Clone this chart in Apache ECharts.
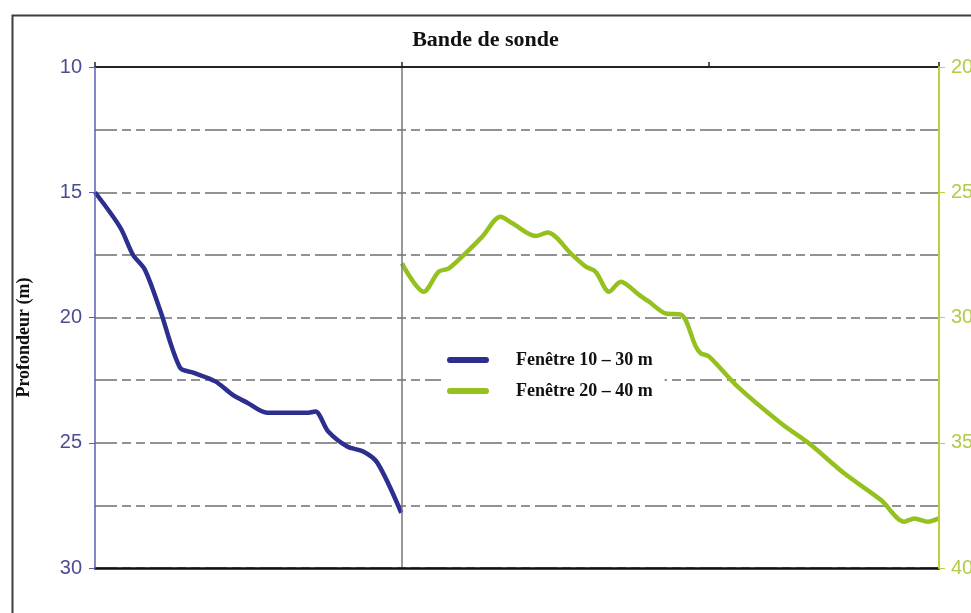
<!DOCTYPE html>
<html>
<head>
<meta charset="utf-8">
<script src="https://cdn.jsdelivr.net/npm/echarts@6/dist/echarts.min.js"></script>
<style>
  html, body { margin: 0; padding: 0; background: #fff; }
  #chart { width: 971px; height: 613px; }
</style>
</head>
<body>
<div id="chart"></div>
<script>
// position le long de la bande de sonde (unités arbitraires)
const bandeBleu = [0, 0.082, 0.124, 0.163, 0.212, 0.277, 0.32, 0.392, 0.45, 0.496, 0.561,
  0.695, 0.718, 0.76, 0.822, 0.874, 0.92, 0.998]
const profBleu = [15.0, 16.4, 17.5, 18.1, 19.7, 22.0, 22.2, 22.55, 23.1, 23.4, 23.8,
  23.8, 23.75, 24.55, 25.15, 25.35, 25.8, 27.8]

const bandeVert = [1.0, 1.071, 1.12, 1.153, 1.207, 1.262, 1.321, 1.36, 1.436, 1.474, 1.555,
  1.599, 1.631, 1.675, 1.713, 1.773, 1.805, 1.86, 1.909, 1.958, 1.974, 2.001, 2.094,
  2.235, 2.333, 2.441, 2.561, 2.637, 2.67, 2.714, 2.75]
const profVert = [27.84, 28.97, 28.17, 28.04, 27.44, 26.77, 25.98, 26.24, 26.75, 26.61, 27.5,
  27.97, 28.17, 28.97, 28.57, 29.1, 29.37, 29.84, 29.88, 31.17, 31.43, 31.56, 32.76,
  34.22, 35.09, 36.22, 37.29, 38.15, 38.02, 38.15, 38.02]

const nomsSeries = ['Fenêtre 10 – 30 m', 'Fenêtre 20 – 40 m']
const titre = 'Bande de sonde'
const nomAxe = 'Profondeur (m)'

const bleu = '#2c2f8e'
const vert = '#95c11f'
const serif = '"Liberation Serif", "DejaVu Serif", serif'
const sans = '"Liberation Sans", Arial, sans-serif'

const chart = echarts.init(document.getElementById('chart'))

const option = {
  backgroundColor: '#fff',
  animation: false,
  graphic: [
    {
      type: 'rect',
      left: 10,
      top: 13,
      shape: { width: 1000, height: 700 },
      style: { fill: 'none', stroke: '#3d3d3d', lineWidth: 2 },
      z: -10
    },
    {
      type: 'text',
      left: 'center',
      top: 29,
      style: { text: titre, font: 'bold 22px ' + serif, fill: '#111' }
    }
  ],
  grid: { left: 95, right: 32, top: 67, bottom: 45, containLabel: false, outerBoundsMode: 'none' },
  legend: {
    data: nomsSeries,
    orient: 'vertical',
    left: 441,
    top: 343,
    backgroundColor: '#fff',
    padding: [8, 12, 8, 6],
    itemWidth: 42,
    itemHeight: 6,
    itemGap: 13,
    icon: 'path://M3,0 H39 A3,3 0 0 1 39,6 H3 A3,3 0 0 1 3,0 Z',
    textStyle: { fontFamily: serif, fontWeight: 'bold', fontSize: 18, color: '#111', padding: [0, 0, 0, 22] },
    z: 10
  },
  xAxis: [
    {
      type: 'value',
      position: 'top',
      min: 0,
      max: 2.75,
      interval: 1,
      z: 5,
      axisLine: { onZero: false, lineStyle: { color: '#222', width: 2 } },
      axisTick: { show: true, length: 5, lineStyle: { color: '#222', width: 1.5 } },
      axisLabel: { show: false },
      splitLine: { show: false }
    },
    {
      type: 'value',
      position: 'bottom',
      min: 0,
      max: 2.75,
      interval: 1,
      z: 5,
      axisLine: { onZero: false, lineStyle: { color: '#111', width: 2.5 } },
      axisTick: { show: false },
      axisLabel: { show: false },
      splitLine: { show: false }
    }
  ],
  yAxis: [
    {
      type: 'value',
      position: 'left',
      inverse: true,
      min: 10,
      max: 30,
      interval: 5,
      z: 6,
      name: nomAxe,
      nameLocation: 'middle',
      nameRotate: 90,
      nameGap: 62,
      nameTextStyle: { fontFamily: serif, fontWeight: 'bold', fontSize: 18, color: '#111', padding: [0, 40, 0, 0] },
      axisLine: { show: true, onZero: false, lineStyle: { color: '#5c5cb8', width: 1.5 } },
      axisTick: { show: true, length: 6, lineStyle: { color: '#5c5cb8' } },
      axisLabel: { color: '#4c4c92', fontFamily: sans, fontSize: 20, margin: 13 },
      splitLine: { show: false }
    },
    {
      type: 'value',
      position: 'right',
      inverse: true,
      min: 20,
      max: 40,
      interval: 5,
      z: 6,
      axisLine: { show: true, onZero: false, lineStyle: { color: '#b6d340', width: 2 } },
      axisTick: { show: true, length: 6, lineStyle: { color: '#b6d340' } },
      axisLabel: { color: '#b0cc46', fontFamily: sans, fontSize: 20, margin: 12 },
      splitLine: { show: false }
    },
    {
      // lignes de grille pointillées tous les 2,5 m
      type: 'value',
      position: 'left',
      inverse: true,
      min: 10,
      max: 30,
      interval: 2.5,
      axisLine: { show: false, onZero: false },
      axisTick: { show: false },
      axisLabel: { show: false },
      splitLine: { show: true, lineStyle: { color: '#929292', width: 2, type: [22, 5, 9, 5, 9, 5] } }
    }
  ],
  series: [
    {
      name: nomsSeries[0],
      type: 'line',
      xAxisIndex: 0,
      yAxisIndex: 0,
      data: bandeBleu.map((x, i) => [x, profBleu[i]]),
      smooth: 0.3,
      symbol: 'none',
      color: bleu,
      lineStyle: { color: bleu, width: 4.5 },
      z: 4,
      markLine: {
        silent: true,
        symbol: 'none',
        label: { show: false },
        lineStyle: { color: '#777', width: 1.5, type: 'solid' },
        data: [{ xAxis: 1 }]
      }
    },
    {
      name: nomsSeries[1],
      type: 'line',
      xAxisIndex: 0,
      yAxisIndex: 1,
      data: bandeVert.map((x, i) => [x, profVert[i]]),
      smooth: 0.3,
      symbol: 'none',
      color: vert,
      lineStyle: { color: vert, width: 4.5 },
      z: 4
    }
  ]
}

chart.setOption(option)
</script>
</body>
</html>
